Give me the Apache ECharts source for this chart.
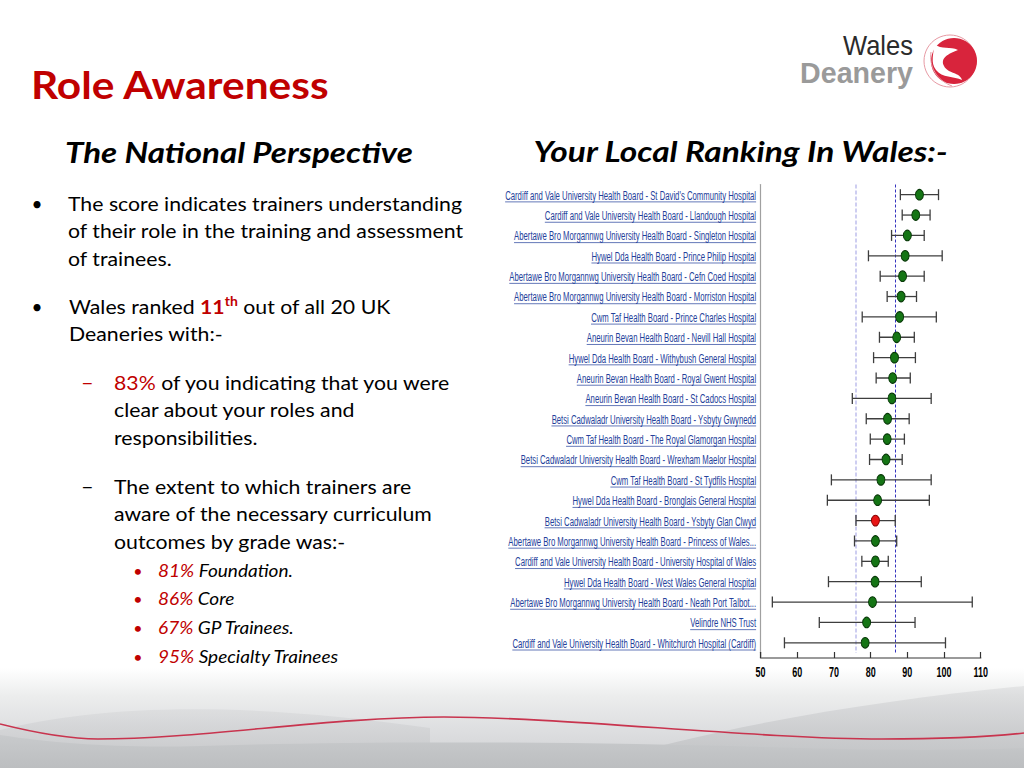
<!DOCTYPE html>
<html><head><meta charset="utf-8">
<script src="https://cdn.jsdelivr.net/npm/echarts@6/dist/echarts.min.js"></script>
<style>html,body{margin:0;padding:0;background:#fff}#c{width:1024px;height:768px}</style>
</head><body><div id="c"></div>
<script>
// ---------------- data ----------------
const categories = [
  "Cardiff and Vale University Health Board - St David's Community Hospital",
  "Cardiff and Vale University Health Board - Llandough Hospital",
  "Abertawe Bro Morgannwg University Health Board - Singleton Hospital",
  "Hywel Dda Health Board - Prince Philip Hospital",
  "Abertawe Bro Morgannwg University Health Board - Cefn Coed Hospital",
  "Abertawe Bro Morgannwg University Health Board - Morriston Hospital",
  "Cwm Taf Health Board - Prince Charles Hospital",
  "Aneurin Bevan Health Board - Nevill Hall Hospital",
  "Hywel Dda Health Board - Withybush General Hospital",
  "Aneurin Bevan Health Board - Royal Gwent Hospital",
  "Aneurin Bevan Health Board - St Cadocs Hospital",
  "Betsi Cadwaladr University Health Board - Ysbyty Gwynedd",
  "Cwm Taf Health Board - The Royal Glamorgan Hospital",
  "Betsi Cadwaladr University Health Board - Wrexham Maelor Hospital",
  "Cwm Taf Health Board - St Tydfils Hospital",
  "Hywel Dda Health Board - Bronglais General Hospital",
  "Betsi Cadwaladr University Health Board - Ysbyty Glan Clwyd",
  "Abertawe Bro Morgannwg University Health Board - Princess of Wales...",
  "Cardiff and Vale University Health Board - University Hospital of Wales",
  "Hywel Dda Health Board - West Wales General Hospital",
  "Abertawe Bro Morgannwg University Health Board - Neath Port Talbot...",
  "Velindre NHS Trust",
  "Cardiff and Vale University Health Board - Whitchurch Hospital (Cardiff)"
];
const scores = [93.3, 92.3, 90.0, 89.4, 88.7, 88.3, 87.9, 87.1, 86.5, 86.0, 85.8, 84.6, 84.5, 84.2, 82.8, 81.9, 81.3, 81.3, 81.3, 81.2, 80.5, 78.9, 78.5];
const lower  = [88.1, 88.6, 85.7, 79.4, 82.6, 84.5, 77.7, 82.4, 80.8, 81.5, 75.0, 78.8, 79.9, 79.7, 69.3, 68.2, 76.0, 75.6, 77.6, 68.5, 53.2, 66.0, 56.5];
const upper  = [98.5, 96.2, 94.6, 99.5, 94.6, 92.5, 97.9, 91.9, 92.2, 90.8, 96.5, 90.5, 89.2, 88.6, 96.5, 96.0, 86.7, 87.1, 84.8, 93.8, 107.7, 92.1, 100.4];
const xTickValues = [50, 60, 70, 80, 90, 100, 110];
const referenceLines = [75.9, 86.7];
const highlighted = "Betsi Cadwaladr University Health Board - Ysbyty Glan Clwyd";

// ---------------- helpers ----------------
const mctx = document.createElement('canvas').getContext('2d');
function measure(font, text) { mctx.font = font; return mctx.measureText(text).width; }

const LABEL_FAMILY = '"Liberation Sans", Arial, sans-serif';
const LABEL_FONT = '13.5px ' + LABEL_FAMILY;
const LABEL_COLOR = '#23409a';
const labelScale = 251 / measure(LABEL_FONT, categories[0]);
const TICK_FONT = 'bold 15px ' + LABEL_FAMILY;
const tickScale = 10 / measure(TICK_FONT, '50');

const RED = '#c00000';
const FAM = 'Lato, "Open Sans", sans-serif';
const TITLE = 'bold 38px ' + FAM;
const HEAD = 'italic bold 28px ' + FAM;
const BODY = '19px ' + FAM;
const SUB = 'italic 17.5px ' + FAM;
const titleScale = 299 / measure(TITLE, 'Role Awareness');
const headScaleL = 348 / measure(HEAD, 'The National Perspective');
const headScaleR = 415 / measure(HEAD, 'Your Local Ranking In Wales:-');
const bodyScale = 394 / measure(BODY, 'The score indicates trainers understanding');
const subScale = 135 / measure(SUB, '81% Foundation.');
const LOGO1 = '27px "Liberation Sans", Arial, sans-serif';
const LOGO2 = 'bold 29px "Liberation Sans", Arial, sans-serif';
const logo1Scale = 70 / measure(LOGO1, 'Wales');
const logo2Scale = 113 / measure(LOGO2, 'Deanery');

function txt(x, y, text, font, opts, sx) {
  return {
    type: 'text', z: 10, x: x, y: y, scaleX: sx || 1,
    style: Object.assign({ text: text, x: 0, y: 0, font: font, fill: '#000', align: 'left', verticalAlign: 'middle' }, opts || {})
  };
}
function lin(c0, c1) {
  return { type: 'linear', x: 0, y: 0, x2: 0, y2: 1, colorStops: [{ offset: 0, color: c0 }, { offset: 1, color: c1 }] };
}

const chart = echarts.init(document.getElementById('c'), null, { renderer: 'svg' });

// decorative slide paths (background swoosh, logo)
const decorPaths = [
  { type: 'rect', shape: { x: 0, y: 668, width: 1024, height: 100 },
    style: { fill: { type: 'linear', x: 0, y: 0, x2: 0, y2: 1, colorStops: [
      { offset: 0, color: 'rgba(255,255,255,1)' }, { offset: 0.28, color: '#eceded' },
      { offset: 0.65, color: '#dcdddf' }, { offset: 1, color: '#cfd0d2' }] } } },
  { type: 'path', shape: { pathData: 'M 580 768 C 720 725 880 700 1024 686 L 1024 768 Z' },
    style: { fill: lin('rgba(205,206,208,0.4)', 'rgba(190,192,194,0.9)') } },
  { type: 'path', shape: { pathData: 'M 0 730 C 90 708 220 698 430 728 L 430 768 L 0 768 Z' },
    style: { fill: lin('rgba(205,206,208,0.35)', 'rgba(195,197,199,0.8)') } },
  { type: 'path', shape: { pathData: 'M 0 735 C 60 744 120 748 200 746 C 380 740 600 742 800 748 C 900 751 980 750 1024 748 L 1024 768 L 0 768 Z' },
    style: { fill: lin('#c8cacc', '#bcbec0') } },
  { type: 'path', shape: { pathData: 'M 0 724 C 40 734 70 739 98 739 C 200 739 330 717 444 717 C 560 717 760 739 882 739 C 950 739 990 737 1024 733' },
    style: { fill: null, stroke: '#c8344e', lineWidth: 1.6 } },
  { type: 'circle', shape: { cx: 950, cy: 61, r: 26 }, style: { fill: null, stroke: '#e79aa4', lineWidth: 1 } },
  { type: 'circle', shape: { cx: 954, cy: 61, r: 23 }, style: { fill: '#d8243c' } },
  { type: 'path', shape: { pathData: 'M 934 44 C 942 50 950 46 958 50 C 948 54 940 58 944 66 C 948 74 960 72 962 80 C 954 76 942 78 936 70 C 930 62 934 54 934 44 Z' },
    style: { fill: '#ffffff' } },
  { type: 'path', shape: { pathData: 'M 931 52 C 929 66 936 80 952 86' }, style: { fill: null, stroke: '#e79aa4', lineWidth: 1 } },
  { type: 'line', shape: { x1: 760.8, y1: 652, x2: 760.8, y2: 658 }, style: { stroke: '#a0a0a0', lineWidth: 1.2 } }
];

const graphics = [
  // logo text
  txt(913, 46, 'Wales', LOGO1, { fill: '#2b2b2b', align: 'right' }, logo1Scale),
  txt(913, 72.5, 'Deanery', LOGO2, { fill: '#9a9a9a', align: 'right' }, logo2Scale),
  // titles
  txt(31, 84, 'Role Awareness', TITLE, { fill: RED }, titleScale),
  txt(65, 152, 'The National Perspective', HEAD, null, headScaleL),
  txt(740.5, 152, 'Your Local Ranking In Wales:-', HEAD, { align: 'center' }, headScaleR),
  // left column
  txt(37, 203, '•', BODY, { align: 'center' }),
  txt(68, 203, 'The score indicates trainers understanding', BODY, null, bodyScale),
  txt(68, 230.5, 'of their role in the training and assessment', BODY, null, bodyScale),
  txt(68, 258, 'of trainees.', BODY, null, bodyScale),
  txt(37, 306, '•', BODY, { align: 'center' }),
  txt(69, 306, 'Wales ranked {b|11}{s|th} out of all 20 UK', BODY, {
    rich: { b: { fill: RED, fontWeight: 'bold', fontSize: 19, fontFamily: 'Lato' },
            s: { fill: RED, fontWeight: 'bold', fontSize: 12.5, fontFamily: 'Lato', verticalAlign: 'top', padding: [0, 0, 10, 0] } } }, bodyScale),
  txt(69, 333, 'Deaneries with:-', BODY, null, bodyScale),
  txt(81, 382, '–', BODY, { fill: RED }, 1.15),
  txt(114, 382, '{r|83%} of you indicating that you were', BODY, { rich: { r: { fill: RED, fontSize: 19, fontFamily: 'Lato' } } }, bodyScale),
  txt(114, 409.5, 'clear about your roles and', BODY, null, bodyScale),
  txt(114, 437, 'responsibilities.', BODY, null, bodyScale),
  txt(81, 486, '–', BODY, null, 1.15),
  txt(114, 486, 'The extent to which trainers are', BODY, null, bodyScale),
  txt(114, 513.5, 'aware of the necessary curriculum', BODY, null, bodyScale),
  txt(114, 541, 'outcomes by grade was:-', BODY, null, bodyScale)
];
const subItems = [['81%', ' Foundation.', 570], ['86%', ' Core', 598.5], ['67%', ' GP Trainees.', 627.5], ['95%', ' Specialty Trainees', 656.5]];
subItems.forEach(function (s) {
  graphics.push(txt(138, s[2], '•', '16px Lato, sans-serif', { fill: RED, align: 'center' }));
  graphics.push(txt(158, s[2], '{r|' + s[0] + '}' + s[1], SUB, { rich: { r: { fill: RED, fontSize: 17.5, fontStyle: 'italic', fontFamily: 'Lato' } } }, subScale));
});

const barData = categories.map(function (c, i) { return [i, lower[i], upper[i]]; });
const dotData = categories.map(function (c, i) {
  const hi = c === highlighted;
  return { value: [scores[i], i], itemStyle: hi ? { color: '#e81515', borderColor: '#8a0000', borderWidth: 1, opacity: 1 } : { color: '#157515', borderColor: '#073807', borderWidth: 1, opacity: 1 } };
});

chart.setOption({
  animation: false,
  backgroundColor: '#ffffff',
  graphic: { elements: graphics },
  grid: { left: 760.6, right: 43.3, top: 184.5, bottom: 115, containLabel: false, outerBoundsMode: 'none' },
  xAxis: {
    type: 'value', min: xTickValues[0], max: xTickValues[xTickValues.length - 1], interval: xTickValues[1] - xTickValues[0],
    offset: 5,
    axisLine: { show: true, lineStyle: { color: '#7a7a7a', width: 1.6 } },
    axisTick: { show: true, inside: true, length: 6, lineStyle: { color: '#333', width: 1.2 } },
    splitLine: { show: false },
    axisLabel: { show: false }
  },
  yAxis: {
    type: 'category', data: categories, inverse: true,
    axisLine: { show: true, lineStyle: { color: '#a0a0a0', width: 1.2 } },
    axisTick: { show: false }, axisLabel: { show: false }, splitLine: { show: false }
  },
  series: [
    {
      type: 'custom', name: 'decor', coordinateSystem: 'none', silent: true, z: 0,
      data: [[0]],
      renderItem: function () { return { type: 'group', children: decorPaths }; }
    },
    {
      // category labels: narrow, underlined link-style text placed at each category band
      type: 'custom', name: 'labels', clip: false, silent: true,
      data: categories.map(function (c, i) { return [i]; }),
      encode: { y: 0 },
      renderItem: function (params, api) {
        const idx = api.value(0);
        const p = api.coord([xTickValues[0], idx]);
        const name = categories[idx];
        const w = measure(LABEL_FONT, name);
        return {
          type: 'group', x: p[0] - 4.5, y: p[1], scaleX: labelScale, scaleY: 1,
          children: [
            { type: 'text', style: { text: name, x: 0, y: 0, align: 'right', verticalAlign: 'middle', fill: LABEL_COLOR, font: LABEL_FONT } },
            { type: 'line', shape: { x1: -w, y1: 7.2, x2: 0, y2: 7.2 }, style: { stroke: LABEL_COLOR, lineWidth: 0.9 } }
          ]
        };
      }
    },
    {
      // x tick labels (narrow bold digits) at each tick value
      type: 'custom', name: 'ticks', clip: false, silent: true,
      data: xTickValues.map(function (v) { return [v]; }),
      encode: { x: 0 },
      renderItem: function (params, api) {
        const v = api.value(0);
        const p = api.coord([v, 0]);
        const bottom = params.coordSys.y + params.coordSys.height;
        return {
          type: 'text', x: p[0], y: bottom + 19.5, scaleX: tickScale,
          style: { text: String(v), x: 0, y: 0, align: 'center', verticalAlign: 'middle', fill: '#000', font: TICK_FONT }
        };
      }
    },
    {
      type: 'custom', name: 'range', clip: false, silent: true, z: 3,
      data: barData,
      encode: { y: 0, x: [1, 2] },
      renderItem: function (params, api) {
        const idx = api.value(0);
        const a = api.coord([api.value(1), idx]);
        const b = api.coord([api.value(2), idx]);
        const h = 5.5;
        const st = { stroke: '#3e3e3e', lineWidth: 1.3 };
        return {
          type: 'group', children: [
            { type: 'line', shape: { x1: a[0], y1: a[1], x2: b[0], y2: b[1] }, style: st },
            { type: 'line', shape: { x1: a[0], y1: a[1] - h, x2: a[0], y2: a[1] + h }, style: st },
            { type: 'line', shape: { x1: b[0], y1: b[1] - h, x2: b[0], y2: b[1] + h }, style: st }
          ]
        };
      }
    },
    {
      type: 'scatter', name: 'score', z: 5, symbol: 'circle', symbolSize: [8, 10.5],
      itemStyle: { opacity: 1 },
      data: dotData,
      markLine: {
        silent: true, symbol: 'none', label: { show: false }, z: 2,
        data: [
          { xAxis: referenceLines[0], lineStyle: { color: '#c9c9f0', type: [4, 2], width: 1.8 } },
          { xAxis: referenceLines[1], lineStyle: { color: '#3434c0', type: [3, 2], width: 1 } }
        ]
      }
    }
  ]
});
</script>
</body></html>
